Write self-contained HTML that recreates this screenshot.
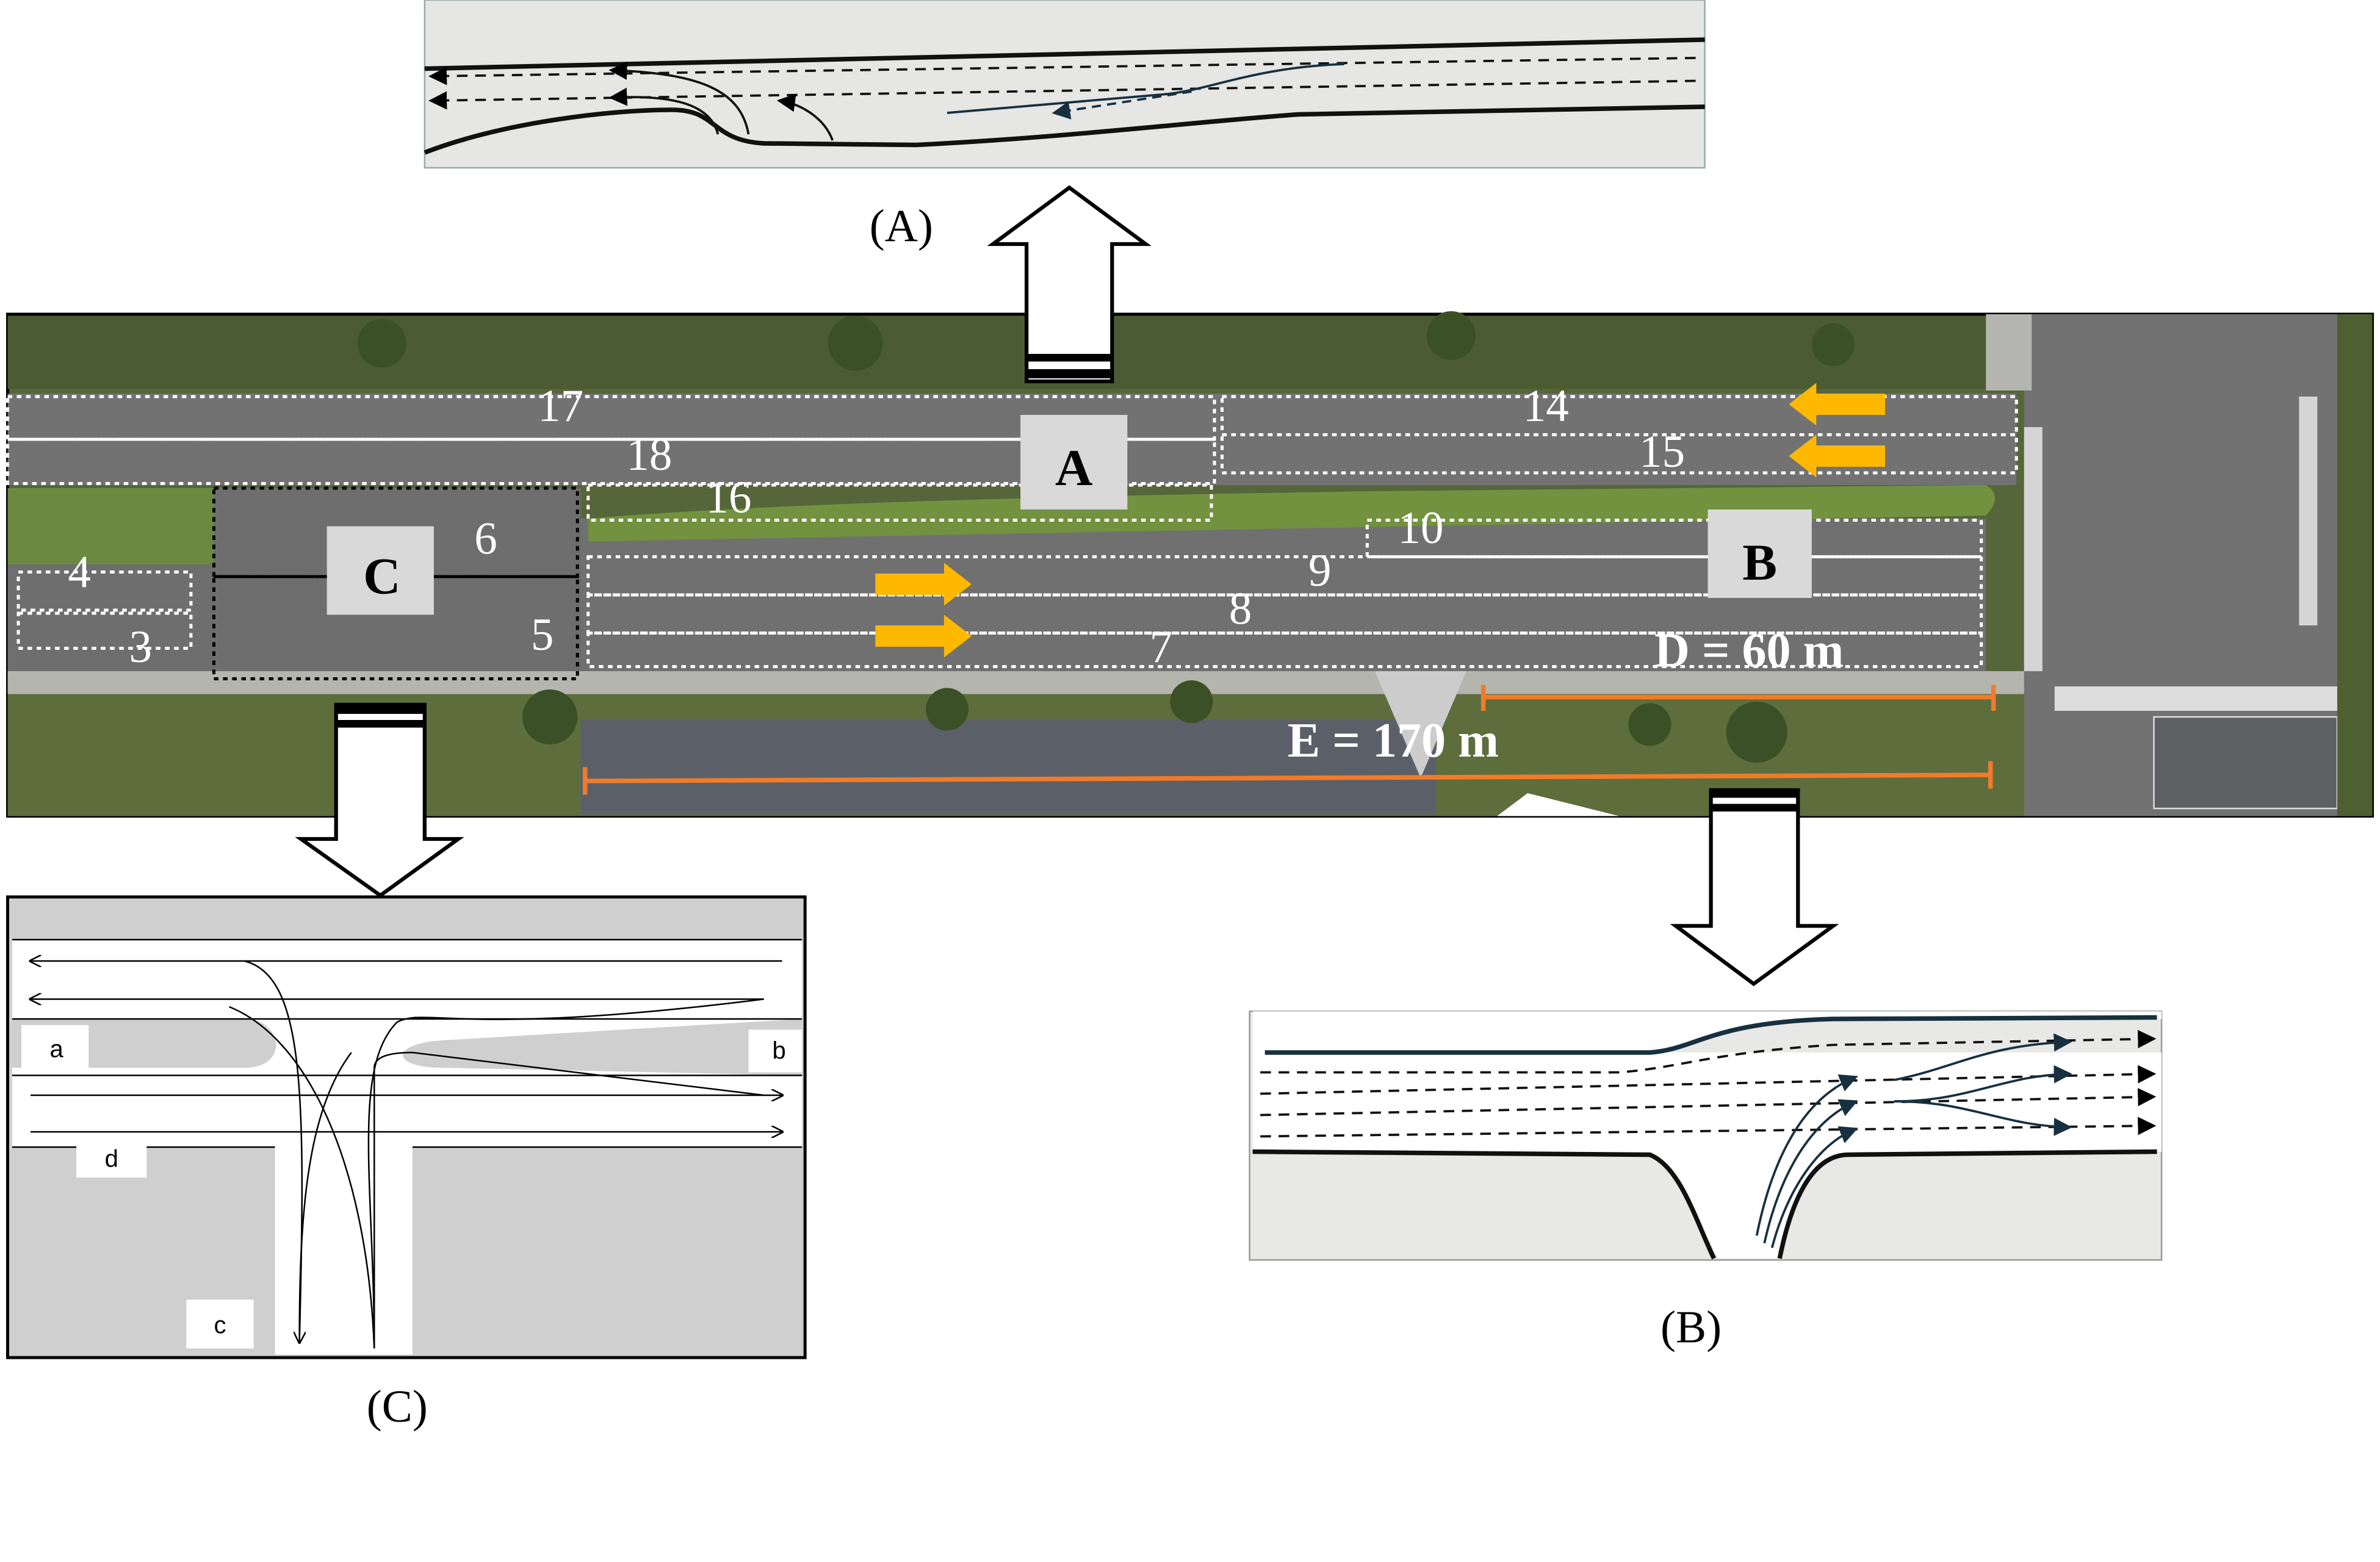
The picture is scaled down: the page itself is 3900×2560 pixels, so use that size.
<!DOCTYPE html>
<html><head><meta charset="utf-8"><style>
html,body{margin:0;padding:0;background:#fff;}
svg{display:block;}
</style></head><body>
<svg width="3900" height="2560" viewBox="0 0 1558 1024" preserveAspectRatio="none" xmlns="http://www.w3.org/2000/svg" font-family="Liberation Serif, serif">
<defs>
<marker id="ah" markerWidth="8" markerHeight="8" refX="7" refY="4" orient="auto"><path d="M0,0 L8,4 L0,8 z" fill="#000"/></marker>
<marker id="ahb" markerWidth="8" markerHeight="8" refX="7" refY="4" orient="auto"><path d="M0,0 L8,4 L0,8 z" fill="#173040"/></marker>
<marker id="oa" markerWidth="8" markerHeight="8" refX="7" refY="4" orient="auto"><path d="M0,0 L8,4 L0,8" fill="none" stroke="#000" stroke-width="1"/></marker>
</defs>

<!-- Panel A -->
<rect x="278" y="0" width="838" height="110" fill="#e6e6e4" stroke="#9aa" stroke-width="1"/>
<path d="M278,45 L1116,26" stroke="#111" stroke-width="3" fill="none"/>
<path d="M278,100 C330,80 400,72 440,72 C470,72 465,92 500,94 L600,95 C700,90 780,80 850,75 L1116,70" stroke="#111" stroke-width="3" fill="none"/>
<line x1="1110" y1="38" x2="282" y2="50" stroke="#111" stroke-width="1.5" stroke-dasharray="7,5" marker-end="url(#ah)"/>
<line x1="1110" y1="53" x2="282" y2="66" stroke="#111" stroke-width="1.5" stroke-dasharray="7,5" marker-end="url(#ah)"/>
<path d="M880,42 C820,44 790,60 760,62 L620,74" stroke="#173040" stroke-width="1.5" fill="none"/>
<path d="M780,60 L690,74" stroke="#173040" stroke-width="1.5" stroke-dasharray="6,4" fill="none" marker-end="url(#ahb)"/>
<path d="M490,88 C485,60 460,48 400,46" stroke="#111" stroke-width="1.5" fill="none" marker-end="url(#ah)"/>
<path d="M470,88 C465,68 440,62 400,64" stroke="#111" stroke-width="1.5" fill="none" marker-end="url(#ah)"/>
<path d="M545,92 C540,78 525,68 510,66" stroke="#111" stroke-width="1.5" fill="none" marker-end="url(#ah)"/>
<text x="590" y="158" font-size="30" text-anchor="middle">(A)</text>

<!-- Main aerial -->
<rect x="5" y="206" width="1548" height="329" fill="#55663a" stroke="#000" stroke-width="2"/>
<rect x="5" y="207" width="1325" height="48" fill="#4b5c32"/>
<rect x="5" y="455" width="1325" height="80" fill="#5d6e3c"/>
<rect x="380" y="472" width="560" height="62" fill="#5b6068"/>
<rect x="5" y="258" width="1315" height="60" fill="#727272"/>
<rect x="5" y="320" width="375" height="125" fill="#6e6e6e"/>
<rect x="380" y="340" width="920" height="100" fill="#707070"/>
<path d="M385,340 C500,330 700,325 900,322 L1300,318 Q1312,325 1300,338 L385,355 Z" fill="#72923f"/>
<rect x="5" y="320" width="135" height="50" fill="#6b8a40"/>
<rect x="5" y="440" width="1325" height="15" fill="#b4b6ae"/>
<rect x="1325" y="206" width="228" height="329" fill="#727273"/>
<rect x="1300" y="206" width="30" height="50" fill="#b4b4b0"/>
<g fill="#eee">
<rect x="1345" y="450" width="190" height="16" opacity="0.85"/>
<rect x="1325" y="280" width="12" height="160" opacity="0.8"/>
<rect x="1505" y="260" width="12" height="150" opacity="0.8"/>
</g>
<rect x="1410" y="470" width="120" height="60" fill="#5e5f62" stroke="#ddd" stroke-width="1"/>
<rect x="1530" y="206" width="23" height="329" fill="#4e6032"/>
<line x1="5" y1="288" x2="795" y2="288" stroke="#ccc" stroke-width="1" stroke-dasharray="10,14"/>
<g fill="#3c5028">
<circle cx="620" cy="465" r="14"/><circle cx="780" cy="460" r="14"/><circle cx="360" cy="470" r="18"/><circle cx="1150" cy="480" r="20"/><circle cx="1080" cy="475" r="14"/>
<circle cx="250" cy="225" r="16"/><circle cx="560" cy="225" r="18"/><circle cx="950" cy="220" r="16"/><circle cx="1200" cy="226" r="14"/>
</g>
<path d="M900,440 L960,440 L930,510 Z" fill="#ccc"/>
<path d="M980,535 L1000,520 L1060,535 Z" fill="#fff"/>

<!-- dotted rectangles -->
<g fill="none" stroke="#fff" stroke-width="2" stroke-dasharray="3,3">
<rect x="5" y="260" width="790" height="28"/>
<rect x="5" y="288" width="790" height="29"/>
<rect x="800" y="260" width="520" height="25"/>
<rect x="800" y="285" width="520" height="25"/>
<rect x="385" y="318" width="408" height="23"/>
<rect x="895" y="341" width="402" height="24"/>
<rect x="385" y="365" width="912" height="25"/>
<rect x="385" y="390" width="912" height="25"/>
<rect x="385" y="415" width="912" height="22"/>
<rect x="12" y="375" width="113" height="25"/>
<rect x="12" y="402" width="113" height="23"/>
</g>
<g fill="none" stroke="#000" stroke-width="2" stroke-dasharray="3,3">
<rect x="140" y="320" width="238" height="58"/>
<rect x="140" y="378" width="238" height="67"/>
</g>
<g fill="#fff" font-size="30">
<text x="367" y="276" text-anchor="middle">17</text>
<text x="425" y="308" text-anchor="middle">18</text>
<text x="477" y="336" text-anchor="middle">16</text>
<text x="1012" y="276" text-anchor="middle">14</text>
<text x="1088" y="306" text-anchor="middle">15</text>
<text x="930" y="356" text-anchor="middle">10</text>
<text x="864" y="384" text-anchor="middle">9</text>
<text x="812" y="409" text-anchor="middle">8</text>
<text x="760" y="434" text-anchor="middle">7</text>
<text x="318" y="363" text-anchor="middle">6</text>
<text x="355" y="426" text-anchor="middle">5</text>
<text x="52" y="385" text-anchor="middle">4</text>
<text x="92" y="434" text-anchor="middle">3</text>
</g>
<rect x="668" y="272" width="70" height="62" fill="#d9d9d9"/>
<text x="703" y="318" font-size="34" font-weight="bold" text-anchor="middle">A</text>
<rect x="1118" y="334" width="68" height="58" fill="#d9d9d9"/>
<text x="1152" y="380" font-size="34" font-weight="bold" text-anchor="middle">B</text>
<rect x="214" y="345" width="70" height="58" fill="#d9d9d9"/>
<text x="250" y="389" font-size="34" font-weight="bold" text-anchor="middle">C</text>
<!-- yellow arrows -->
<g fill="#ffb800">
<path d="M573,376 L618,376 L618,369 L636,383 L618,397 L618,390 L573,390 Z"/>
<path d="M573,410 L618,410 L618,403 L636,417 L618,431 L618,424 L573,424 Z"/>
<path d="M1234,258 L1189,258 L1189,251 L1171,265 L1189,279 L1189,272 L1234,272 Z"/>
<path d="M1234,292 L1189,292 L1189,285 L1171,299 L1189,313 L1189,306 L1234,306 Z"/>
</g>
<!-- orange lines -->
<g stroke="#f07b2a" stroke-width="3">
<line x1="971" y1="457" x2="1305" y2="457"/><line x1="971" y1="449" x2="971" y2="466"/><line x1="1305" y1="449" x2="1305" y2="466"/>
<line x1="383" y1="512" x2="1303" y2="508"/><line x1="383" y1="503" x2="383" y2="521"/><line x1="1303" y1="499" x2="1303" y2="517"/>
</g>
<text x="1145" y="437" font-size="32" font-weight="bold" fill="#fff" text-anchor="middle">D = 60 m</text>
<text x="912" y="496" font-size="32" font-weight="bold" fill="#fff" text-anchor="middle">E = 170 m</text>

<!-- Up arrow -->
<path d="M700,123 L750,160 L728,160 L728,250 L672,250 L672,160 L650,160 Z" fill="#fff" stroke="#000" stroke-width="2.5"/>
<rect x="672" y="232" width="56" height="5" fill="#000"/>
<rect x="672" y="242" width="56" height="6" fill="#000"/>

<!-- Down arrow C -->
<path d="M249,587 L300,550 L278,550 L278,462 L220,462 L220,550 L197,550 Z" fill="#fff" stroke="#000" stroke-width="2.5"/>
<rect x="220" y="463" width="58" height="5" fill="#000"/>
<rect x="220" y="472" width="58" height="5" fill="#000"/>
<!-- Down arrow B -->
<path d="M1148,645 L1200,607 L1177,607 L1177,518 L1120,518 L1120,607 L1097,607 Z" fill="#fff" stroke="#000" stroke-width="2.5"/>
<rect x="1120" y="519" width="57" height="4" fill="#000"/>
<rect x="1120" y="527" width="57" height="5" fill="#000"/>

<!-- Panel C -->
<rect x="5" y="588" width="522" height="302" fill="#cfcfcf" stroke="#000" stroke-width="2"/>
<rect x="8" y="616" width="517" height="136" fill="#fff"/>
<rect x="180" y="750" width="90" height="138" fill="#fff"/>
<path d="M8,668 L160,668 C185,668 190,700 160,700 L8,700 Z" fill="#cfcfcf"/>
<path d="M525,668 L290,682 C255,684 255,700 290,700 L525,705 Z" fill="#cfcfcf"/>
<path d="M8,752 L160,752 Q180,752 180,772 L180,888 L8,888 Z" fill="#cfcfcf"/>
<path d="M525,752 L290,752 Q270,752 270,772 L270,888 L525,888 Z" fill="#cfcfcf"/>
<g stroke="#000" stroke-width="1" fill="none">
<line x1="8" y1="616" x2="525" y2="616"/>
<line x1="8" y1="668" x2="525" y2="668"/>
<line x1="8" y1="705" x2="525" y2="705"/>
<line x1="8" y1="752" x2="180" y2="752"/>
<line x1="270" y1="752" x2="525" y2="752"/>
<line x1="512" y1="630" x2="20" y2="630" marker-end="url(#oa)"/>
<line x1="500" y1="655" x2="20" y2="655" marker-end="url(#oa)"/>
<line x1="20" y1="718" x2="512" y2="718" marker-end="url(#oa)"/>
<line x1="20" y1="742" x2="512" y2="742" marker-end="url(#oa)"/>
<path d="M160,630 C200,640 200,720 196,880" marker-end="url(#oa)"/>
<path d="M245,884 C245,780 230,700 260,670 C280,660 300,680 500,655"/>
<path d="M245,884 C240,760 200,680 150,660"/>
<path d="M245,884 L245,700 Q245,690 270,690 L500,718"/>
<path d="M196,880 C196,800 200,730 230,690"/>
</g>
<rect x="14" y="672" width="44" height="28" fill="#fff"/><text x="37" y="693" font-family="Liberation Sans, sans-serif" font-size="16" text-anchor="middle">a</text>
<rect x="490" y="675" width="35" height="28" fill="#fff"/><text x="510" y="694" font-family="Liberation Sans, sans-serif" font-size="16" text-anchor="middle">b</text>
<rect x="122" y="852" width="44" height="32" fill="#fff"/><text x="144" y="874" font-family="Liberation Sans, sans-serif" font-size="16" text-anchor="middle">c</text>
<rect x="50" y="748" width="46" height="24" fill="#fff"/><text x="73" y="765" font-family="Liberation Sans, sans-serif" font-size="16" text-anchor="middle">d</text>
<text x="260" y="932" font-size="30" text-anchor="middle">(C)</text>

<!-- Panel B -->
<rect x="818" y="663" width="597" height="163" fill="#e8e8e6" stroke="#999" stroke-width="1"/>
<path d="M820,663 L1415,663 L1415,668 L1200,668 C1120,670 1100,690 1080,690 L820,690 Z" fill="#fff"/>
<path d="M820,755 L1080,757 C1100,760 1110,800 1125,825 L1165,825 C1175,790 1185,757 1210,757 L1415,755 L1415,690 L820,690 Z" fill="#fff"/>
<path d="M828,690 L1080,690 C1110,688 1120,670 1200,668 L1412,667" stroke="#173040" stroke-width="3" fill="none"/>
<path d="M820,755 L1080,757 C1100,765 1110,800 1122,825" stroke="#111" stroke-width="3" fill="none"/>
<path d="M1165,825 C1172,790 1185,757 1210,757 L1412,755" stroke="#111" stroke-width="3" fill="none"/>
<g stroke="#111" stroke-width="1.5" stroke-dasharray="7,5" fill="none">
<path d="M825,703 L1060,703 C1100,700 1120,690 1200,685 L1410,681" marker-end="url(#ah)"/>
<path d="M825,717 L1410,704" marker-end="url(#ah)"/>
<path d="M825,731 L1410,719" marker-end="url(#ah)"/>
<path d="M825,745 L1410,738" marker-end="url(#ah)"/>
</g>
<g stroke="#173040" stroke-width="1.5" fill="none">
<path d="M1240,708 C1280,700 1300,685 1355,683" marker-end="url(#ahb)"/>
<path d="M1240,722 C1290,722 1310,705 1355,704" marker-end="url(#ahb)"/>
<path d="M1240,722 C1290,722 1310,738 1355,739" marker-end="url(#ahb)"/>
<path d="M1150,810 C1160,760 1180,720 1215,706" marker-end="url(#ahb)"/>
<path d="M1155,815 C1165,770 1185,735 1215,722" marker-end="url(#ahb)"/>
<path d="M1160,818 C1170,780 1190,750 1215,740" marker-end="url(#ahb)"/>
</g>
<text x="1107" y="880" font-size="30" text-anchor="middle">(B)</text>
</svg>
</body></html>
